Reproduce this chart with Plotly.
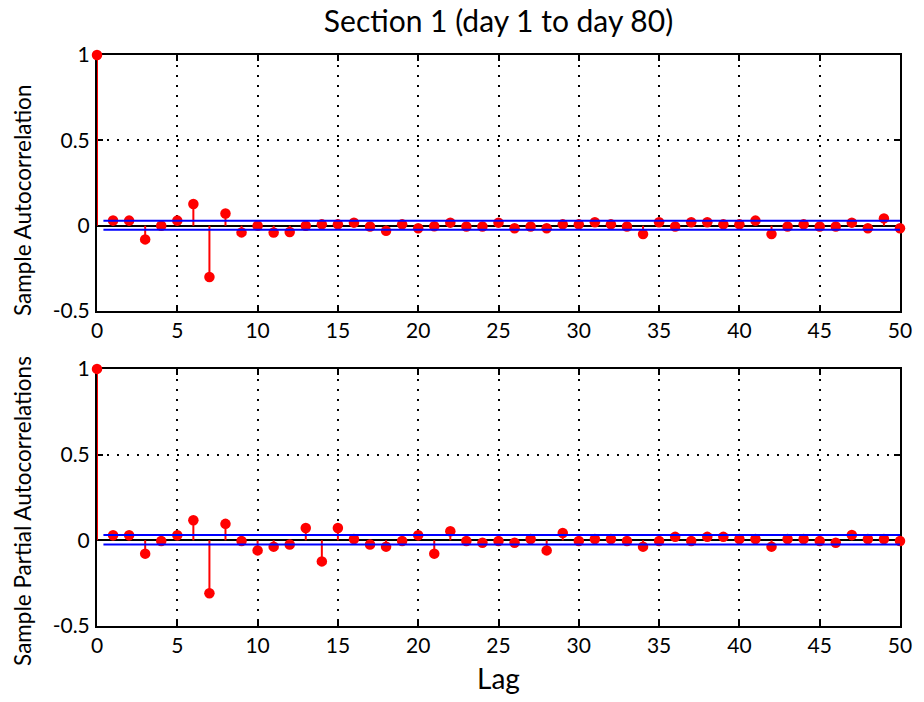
import plotly.graph_objects as go

lags = list(range(0, 51))
acf = [1.0, 0.031, 0.03, -0.08, 0.0, 0.03, 0.127, -0.30, 0.072, -0.039, 0.0,
       -0.04, -0.037, 0.0, 0.008, 0.008, 0.018, -0.005, -0.03, 0.008, -0.015,
       -0.003, 0.018, -0.005, -0.005, 0.018, -0.015, -0.005, -0.015, 0.008, 0.008,
       0.02, 0.008, -0.005, -0.049, 0.02, -0.005, 0.02, 0.02, 0.008, 0.008,
       0.03, -0.049, -0.005, 0.008, -0.005, -0.005, 0.018, -0.015, 0.043, -0.015]
pacf = [1.0, 0.029, 0.029, -0.078, -0.004, 0.029, 0.117, -0.309, 0.096, -0.004, -0.059,
        -0.037, -0.025, 0.072, -0.123, 0.072, 0.008, -0.025, -0.037, -0.004, 0.029,
        -0.078, 0.053, -0.004, -0.014, -0.004, -0.014, 0.008, -0.059, 0.043, -0.004,
        0.008, 0.008, -0.004, -0.037, -0.004, 0.02, -0.004, 0.02, 0.02, 0.008,
        0.008, -0.037, 0.008, 0.008, -0.004, -0.014, 0.031, 0.008, 0.008, -0.004]
acf_bounds = [0.029, -0.024]
pacf_bounds = [0.031, -0.024]
bound_span = [0.4, 50]

x_ticks = [0, 5, 10, 15, 20, 25, 30, 35, 40, 45, 50]
y_ticks = [-0.5, 0, 0.5, 1]
y_tick_labels = ["-0.5", "0", "0.5", "1"]

title_text = "Section 1 (day 1 to day 80)"
ytitle_top = "Sample Autocorrelation"
ytitle_bottom = "Sample Partial Autocorrelations"
xtitle = "Lag"

FONT = "Lato"

fig = go.Figure()


def add_panel(vals, bounds, xa, ya):
    sx, sy = [], []
    for l, v in zip(lags, vals):
        sx += [l, l, None]
        sy += [0, v, None]
    fig.add_trace(go.Scatter(x=sx, y=sy, mode="lines", xaxis=xa, yaxis=ya,
                             line=dict(color="red", width=2), hoverinfo="skip",
                             showlegend=False, cliponaxis=False))
    fig.add_trace(go.Scatter(x=lags, y=vals, mode="markers", xaxis=xa, yaxis=ya,
                             marker=dict(color="red", size=10.5), showlegend=False,
                             cliponaxis=False))
    for b in bounds:
        fig.add_trace(go.Scatter(x=bound_span, y=[b, b], mode="lines", xaxis=xa, yaxis=ya,
                                 line=dict(color="#0000ff", width=2), showlegend=False,
                                 hoverinfo="skip"))


add_panel(acf, acf_bounds, "x", "y")
add_panel(pacf, pacf_bounds, "x2", "y2")

xcommon = dict(range=[0, 50], tickvals=x_ticks, ticks="inside", ticklen=6, tickwidth=2,
               tickcolor="black", showline=True, linecolor="black", linewidth=2,
               mirror="ticks", showgrid=True, gridcolor="black", griddash="2px,8px",
               gridwidth=1.5, zeroline=False, layer="below traces",
               tickfont=dict(family=FONT, size=21, color="black"))
ycommon = dict(range=[-0.5, 1], tickvals=y_ticks, ticktext=y_tick_labels, ticks="inside",
               ticklen=6, tickwidth=2, tickcolor="black", showline=True, linecolor="black",
               linewidth=2, mirror="ticks", showgrid=True, gridcolor="black",
               griddash="2px,8px", gridwidth=1.5, zeroline=True, zerolinecolor="black",
               zerolinewidth=2, ticklabelstandoff=1, layer="below traces",
               tickfont=dict(family=FONT, size=21, color="black"))

fig.update_layout(
    width=924, height=702,
    margin=dict(l=97, r=24, t=55, b=74),
    paper_bgcolor="white", plot_bgcolor="white",
    title=dict(text=title_text, xref="paper", x=0.5, xanchor="center",
               yref="container", y=1 - 21 / 702, yanchor="middle",
               font=dict(family=FONT, size=30, color="black")),
    xaxis=dict(domain=[0, 1], anchor="y", **xcommon),
    yaxis=dict(domain=[0.5515, 1], anchor="x", **ycommon),
    xaxis2=dict(domain=[0, 1], anchor="y2",
                title=dict(text=xtitle, standoff=13,
                           font=dict(family=FONT, size=28, color="black")), **xcommon),
    yaxis2=dict(domain=[0, 0.4503], anchor="x2", **ycommon),
    annotations=[
        dict(text=ytitle_top, xref="paper", yref="paper", x=0, y=0.7452,
             xanchor="center", yanchor="middle", xshift=-74.5, textangle=-90,
             showarrow=False, font=dict(family=FONT, size=22.5, color="black")),
        dict(text=ytitle_bottom, xref="paper", yref="paper", x=0, y=0.2007,
             xanchor="center", yanchor="middle", xshift=-74.5, textangle=-90,
             showarrow=False, font=dict(family=FONT, size=22.5, color="black")),
    ],
)

fig.write_html("out.html", config={"displayModeBar": False},
               post_script="document.body.style.margin='0';")
